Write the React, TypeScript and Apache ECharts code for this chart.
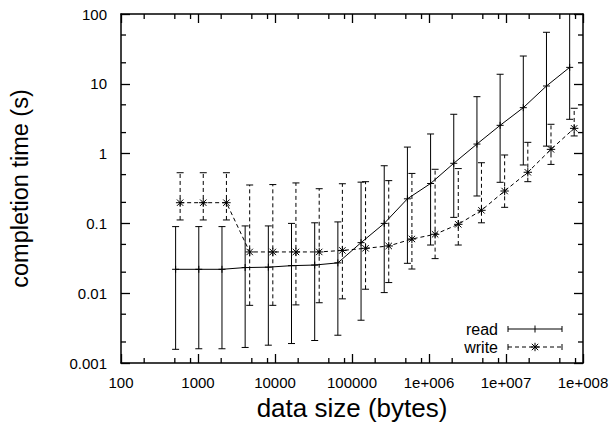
import React, { useEffect, useRef } from 'react';
import * as echarts from 'echarts';

// ---- data ----
const readSizes = [512, 1024, 2048, 4096, 8192, 16384, 32768, 65536, 131072, 262144, 524288, 1048576, 2097152, 4194304, 8388608, 16777216, 33554432, 67108864];
const readMean = [0.022, 0.022, 0.022, 0.0233, 0.0236, 0.0248, 0.0253, 0.0272, 0.053, 0.1, 0.225, 0.373, 0.726, 1.37, 2.54, 4.55, 9.3, 17.2];
const readLow = [0.00157, 0.0016, 0.0016, 0.00167, 0.0018, 0.0019, 0.0021, 0.0025, 0.0041, 0.0102, 0.0268, 0.049, 0.122, 0.247, 0.388, 0.687, 1.28, 3.1];
const readHigh = [0.09, 0.09, 0.09, 0.092, 0.092, 0.1, 0.102, 0.105, 0.39, 0.67, 1.24, 1.91, 3.66, 6.54, 13.7, 25, 54.7, 150];

const writeSizes = [586, 1170, 2340, 4690, 9370, 18700, 37500, 75000, 150000, 300000, 600000, 1200000, 2400000, 4800000, 9600000, 19200000, 38400000, 76800000];
const writeMean = [0.198, 0.198, 0.198, 0.039, 0.039, 0.039, 0.039, 0.041, 0.044, 0.0475, 0.0598, 0.0698, 0.097, 0.154, 0.291, 0.54, 1.15, 2.3];
const writeLow = [0.112, 0.112, 0.112, 0.0067, 0.0067, 0.0068, 0.0073, 0.0083, 0.0114, 0.0142, 0.0222, 0.0313, 0.049, 0.102, 0.17, 0.396, 0.7, 1.79];
const writeHigh = [0.532, 0.532, 0.532, 0.355, 0.36, 0.38, 0.314, 0.37, 0.396, 0.41, 0.52, 0.596, 0.61, 0.74, 0.955, 1.45, 2.63, 4.46];

const xMin = 100;
const xMax = 1e8;
const yMin = 0.001;
const yMax = 100;
const xMinorMultipliers = [2, 5, 8];
const yMinorMultipliers = [2, 5];

const FONT = '"Liberation Sans", Arial, Helvetica, sans-serif';
const BLACK = '#000';

function minorTicks(lo: number, hi: number, mults: number[]) {
  const out: number[] = [];
  for (let e = Math.round(Math.log10(lo)); e < Math.round(Math.log10(hi)); e++) {
    for (const m of mults) out.push(m * Math.pow(10, e));
  }
  return out;
}

function xLabel(v: number) {
  const e = Math.round(Math.log10(v));
  if (e >= 6) return '1e+00' + e;
  return String(Math.round(Math.pow(10, e)));
}
function yLabel(v: number) {
  const e = Math.round(Math.log10(v));
  if (e < 0) return Math.pow(10, e).toFixed(-e);
  return String(Math.round(Math.pow(10, e)));
}

function errorRender(kind: 'plus' | 'star', dashed: boolean) {
  return (params: any, api: any) => {
    const x = api.value(0);
    const y = api.value(1);
    const lo = api.value(2);
    const hi = api.value(3);
    const cs = params.coordSys;
    const p = api.coord([x, y]);
    const pLo = api.coord([x, lo]);
    const pHi = api.coord([x, hi]);
    const top = Math.max(pHi[1], cs.y);
    const bottom = Math.min(pLo[1], cs.y + cs.height);
    const cw = 3.5;
    const solid = { stroke: BLACK, lineWidth: 1, fill: null };
    const barStyle = dashed ? { stroke: BLACK, lineWidth: 1, lineDash: [4, 3], fill: null } : solid;
    const children: any[] = [
      { type: 'line', shape: { x1: pLo[0], y1: bottom, x2: pLo[0], y2: top }, style: barStyle },
    ];
    if (pLo[1] <= cs.y + cs.height) {
      children.push({ type: 'line', shape: { x1: pLo[0] - cw, y1: pLo[1], x2: pLo[0] + cw, y2: pLo[1] }, style: solid });
    }
    if (pHi[1] >= cs.y) {
      children.push({ type: 'line', shape: { x1: pHi[0] - cw, y1: pHi[1], x2: pHi[0] + cw, y2: pHi[1] }, style: solid });
    }
    if (kind === 'plus') {
      const s = 3.5;
      children.push({ type: 'line', shape: { x1: p[0] - s, y1: p[1], x2: p[0] + s, y2: p[1] }, style: solid });
      children.push({ type: 'line', shape: { x1: p[0], y1: p[1] - s, x2: p[0], y2: p[1] + s }, style: solid });
    } else {
      const s = 4.2;
      const d = 3.2;
      children.push({ type: 'line', shape: { x1: p[0] - s, y1: p[1], x2: p[0] + s, y2: p[1] }, style: solid });
      children.push({ type: 'line', shape: { x1: p[0], y1: p[1] - s, x2: p[0], y2: p[1] + s }, style: solid });
      children.push({ type: 'line', shape: { x1: p[0] - d, y1: p[1] - d, x2: p[0] + d, y2: p[1] + d }, style: solid });
      children.push({ type: 'line', shape: { x1: p[0] - d, y1: p[1] + d, x2: p[0] + d, y2: p[1] - d }, style: solid });
    }
    return { type: 'group', children };
  };
}

// minor tick marks on all four sides of the frame, placed through the axes' scales
const MINOR_LEN = 5;
function xMinorRender(params: any, api: any) {
  const cs = params.coordSys;
  const px = api.coord([api.value(0), yMin])[0];
  const st = { stroke: BLACK, lineWidth: 1.3 };
  return {
    type: 'group',
    children: [
      { type: 'line', shape: { x1: px, y1: cs.y + cs.height, x2: px, y2: cs.y + cs.height - MINOR_LEN }, style: st },
      { type: 'line', shape: { x1: px, y1: cs.y, x2: px, y2: cs.y + MINOR_LEN }, style: st },
    ],
  };
}
function yMinorRender(params: any, api: any) {
  const cs = params.coordSys;
  const py = api.coord([xMin, api.value(1)])[1];
  const st = { stroke: BLACK, lineWidth: 1.3 };
  return {
    type: 'group',
    children: [
      { type: 'line', shape: { x1: cs.x, y1: py, x2: cs.x + MINOR_LEN, y2: py }, style: st },
      { type: 'line', shape: { x1: cs.x + cs.width, y1: py, x2: cs.x + cs.width - MINOR_LEN, y2: py }, style: st },
    ],
  };
}

export default function App() {
  const ref = useRef<HTMLDivElement>(null);

  useEffect(() => {
    if (!ref.current) return;
    const chart = echarts.init(ref.current, null, { renderer: 'svg' });

    const xMinor = minorTicks(xMin, xMax, xMinorMultipliers);
    const yMinor = minorTicks(yMin, yMax, yMinorMultipliers);

    const frame = { show: true, onZero: false, lineStyle: { color: BLACK, width: 1.5 } };
    const majorTick = { show: true, inside: true, length: 9, lineStyle: { color: BLACK, width: 1.3 } };

    const readLine = readSizes.map((s, i) => [s, readMean[i]]);
    const writeLine = writeSizes.map((s, i) => [s, writeMean[i]]);
    const readErr = readSizes.map((s, i) => [s, readMean[i], readLow[i], readHigh[i]]);
    const writeErr = writeSizes.map((s, i) => [s, writeMean[i], writeLow[i], writeHigh[i]]);

    const legendY1 = 329;
    const legendY2 = 347;
    const lx1 = 508;
    const lx2 = 562;
    const lxm = 535;
    const ls = { stroke: BLACK, lineWidth: 1 };
    const ld = { stroke: BLACK, lineWidth: 1, lineDash: [4, 3] };

    chart.setOption({
      animation: false,
      backgroundColor: '#fff',
      textStyle: { fontFamily: FONT },
      grid: { left: 121, right: 33, top: 14, bottom: 59, containLabel: false, outerBoundsMode: 'none' },
      xAxis: [
        {
          type: 'log', logBase: 10, min: xMin, max: xMax, position: 'bottom',
          axisLine: frame, axisTick: majorTick,
          axisLabel: { formatter: xLabel, color: BLACK, fontSize: 15, fontFamily: FONT, margin: 12, showMinLabel: true, showMaxLabel: true },
          splitLine: { show: false },
          name: 'data size (bytes)', nameLocation: 'middle', nameGap: 27,
          nameTextStyle: { fontSize: 26, color: BLACK, fontFamily: FONT },
        },
        {
          type: 'log', logBase: 10, min: xMin, max: xMax, position: 'top',
          axisLine: frame, axisTick: majorTick, axisLabel: { show: false }, splitLine: { show: false },
        },
      ],
      yAxis: [
        {
          type: 'log', logBase: 10, min: yMin, max: yMax, position: 'left',
          axisLine: frame, axisTick: majorTick,
          axisLabel: { formatter: yLabel, color: BLACK, fontSize: 15, fontFamily: FONT, margin: 14, showMinLabel: true, showMaxLabel: true },
          splitLine: { show: false },
          name: 'completion time (s)', nameLocation: 'middle', nameGap: 89, nameRotate: 90,
          nameTextStyle: { fontSize: 23.5, color: BLACK, fontFamily: FONT },
        },
        {
          type: 'log', logBase: 10, min: yMin, max: yMax, position: 'right',
          axisLine: frame, axisTick: majorTick, axisLabel: { show: false }, splitLine: { show: false },
        },
      ],
      series: [
        {
          name: 'read', type: 'line', data: readLine, symbol: 'none', xAxisIndex: 0, yAxisIndex: 0,
          lineStyle: { color: BLACK, width: 1 }, itemStyle: { color: BLACK }, z: 3,
        },
        {
          name: 'write', type: 'line', data: writeLine, symbol: 'none', xAxisIndex: 0, yAxisIndex: 0,
          lineStyle: { color: BLACK, width: 1, type: [4, 3] }, itemStyle: { color: BLACK }, z: 3,
        },
        {
          name: 'read errors', type: 'custom', data: readErr, xAxisIndex: 0, yAxisIndex: 0,
          renderItem: errorRender('plus', false), encode: { x: 0, y: [1, 2, 3] }, z: 2,
        },
        {
          name: 'write errors', type: 'custom', data: writeErr, xAxisIndex: 0, yAxisIndex: 0,
          renderItem: errorRender('star', true), encode: { x: 0, y: [1, 2, 3] }, z: 2,
        },
        {
          name: 'x minor ticks', type: 'custom', silent: true, xAxisIndex: 0, yAxisIndex: 0,
          data: xMinor.map((v) => [v, yMin]), encode: { x: 0, y: 1 }, renderItem: xMinorRender, z: 4,
        },
        {
          name: 'y minor ticks', type: 'custom', silent: true, xAxisIndex: 0, yAxisIndex: 0,
          data: yMinor.map((v) => [xMin, v]), encode: { x: 0, y: 1 }, renderItem: yMinorRender, z: 4,
        },
      ],
      graphic: [
        { type: 'text', x: 498, y: legendY1, style: { text: 'read', fill: BLACK, font: `16px ${FONT}`, align: 'right', verticalAlign: 'middle' } },
        { type: 'line', shape: { x1: lx1, y1: legendY1, x2: lx2, y2: legendY1 }, style: ls },
        { type: 'line', shape: { x1: lx1, y1: legendY1 - 3, x2: lx1, y2: legendY1 + 3 }, style: ls },
        { type: 'line', shape: { x1: lx2, y1: legendY1 - 3, x2: lx2, y2: legendY1 + 3 }, style: ls },
        { type: 'line', shape: { x1: lxm, y1: legendY1 - 3.5, x2: lxm, y2: legendY1 + 3.5 }, style: ls },
        { type: 'text', x: 498, y: legendY2, style: { text: 'write', fill: BLACK, font: `16px ${FONT}`, align: 'right', verticalAlign: 'middle' } },
        { type: 'line', shape: { x1: lx1, y1: legendY2, x2: lx2, y2: legendY2 }, style: ld },
        { type: 'line', shape: { x1: lx1, y1: legendY2 - 3, x2: lx1, y2: legendY2 + 3 }, style: ls },
        { type: 'line', shape: { x1: lx2, y1: legendY2 - 3, x2: lx2, y2: legendY2 + 3 }, style: ls },
        { type: 'line', shape: { x1: lxm - 4.2, y1: legendY2, x2: lxm + 4.2, y2: legendY2 }, style: ls },
        { type: 'line', shape: { x1: lxm, y1: legendY2 - 4.2, x2: lxm, y2: legendY2 + 4.2 }, style: ls },
        { type: 'line', shape: { x1: lxm - 3.2, y1: legendY2 - 3.2, x2: lxm + 3.2, y2: legendY2 + 3.2 }, style: ls },
        { type: 'line', shape: { x1: lxm - 3.2, y1: legendY2 + 3.2, x2: lxm + 3.2, y2: legendY2 - 3.2 }, style: ls },
      ],
    } as any);

    return () => chart.dispose();
  }, []);

  return (
    <div
      ref={ref}
      style={{ position: 'absolute', left: 0, top: 0, width: 616, height: 422, background: '#fff' }}
    />
  );
}
